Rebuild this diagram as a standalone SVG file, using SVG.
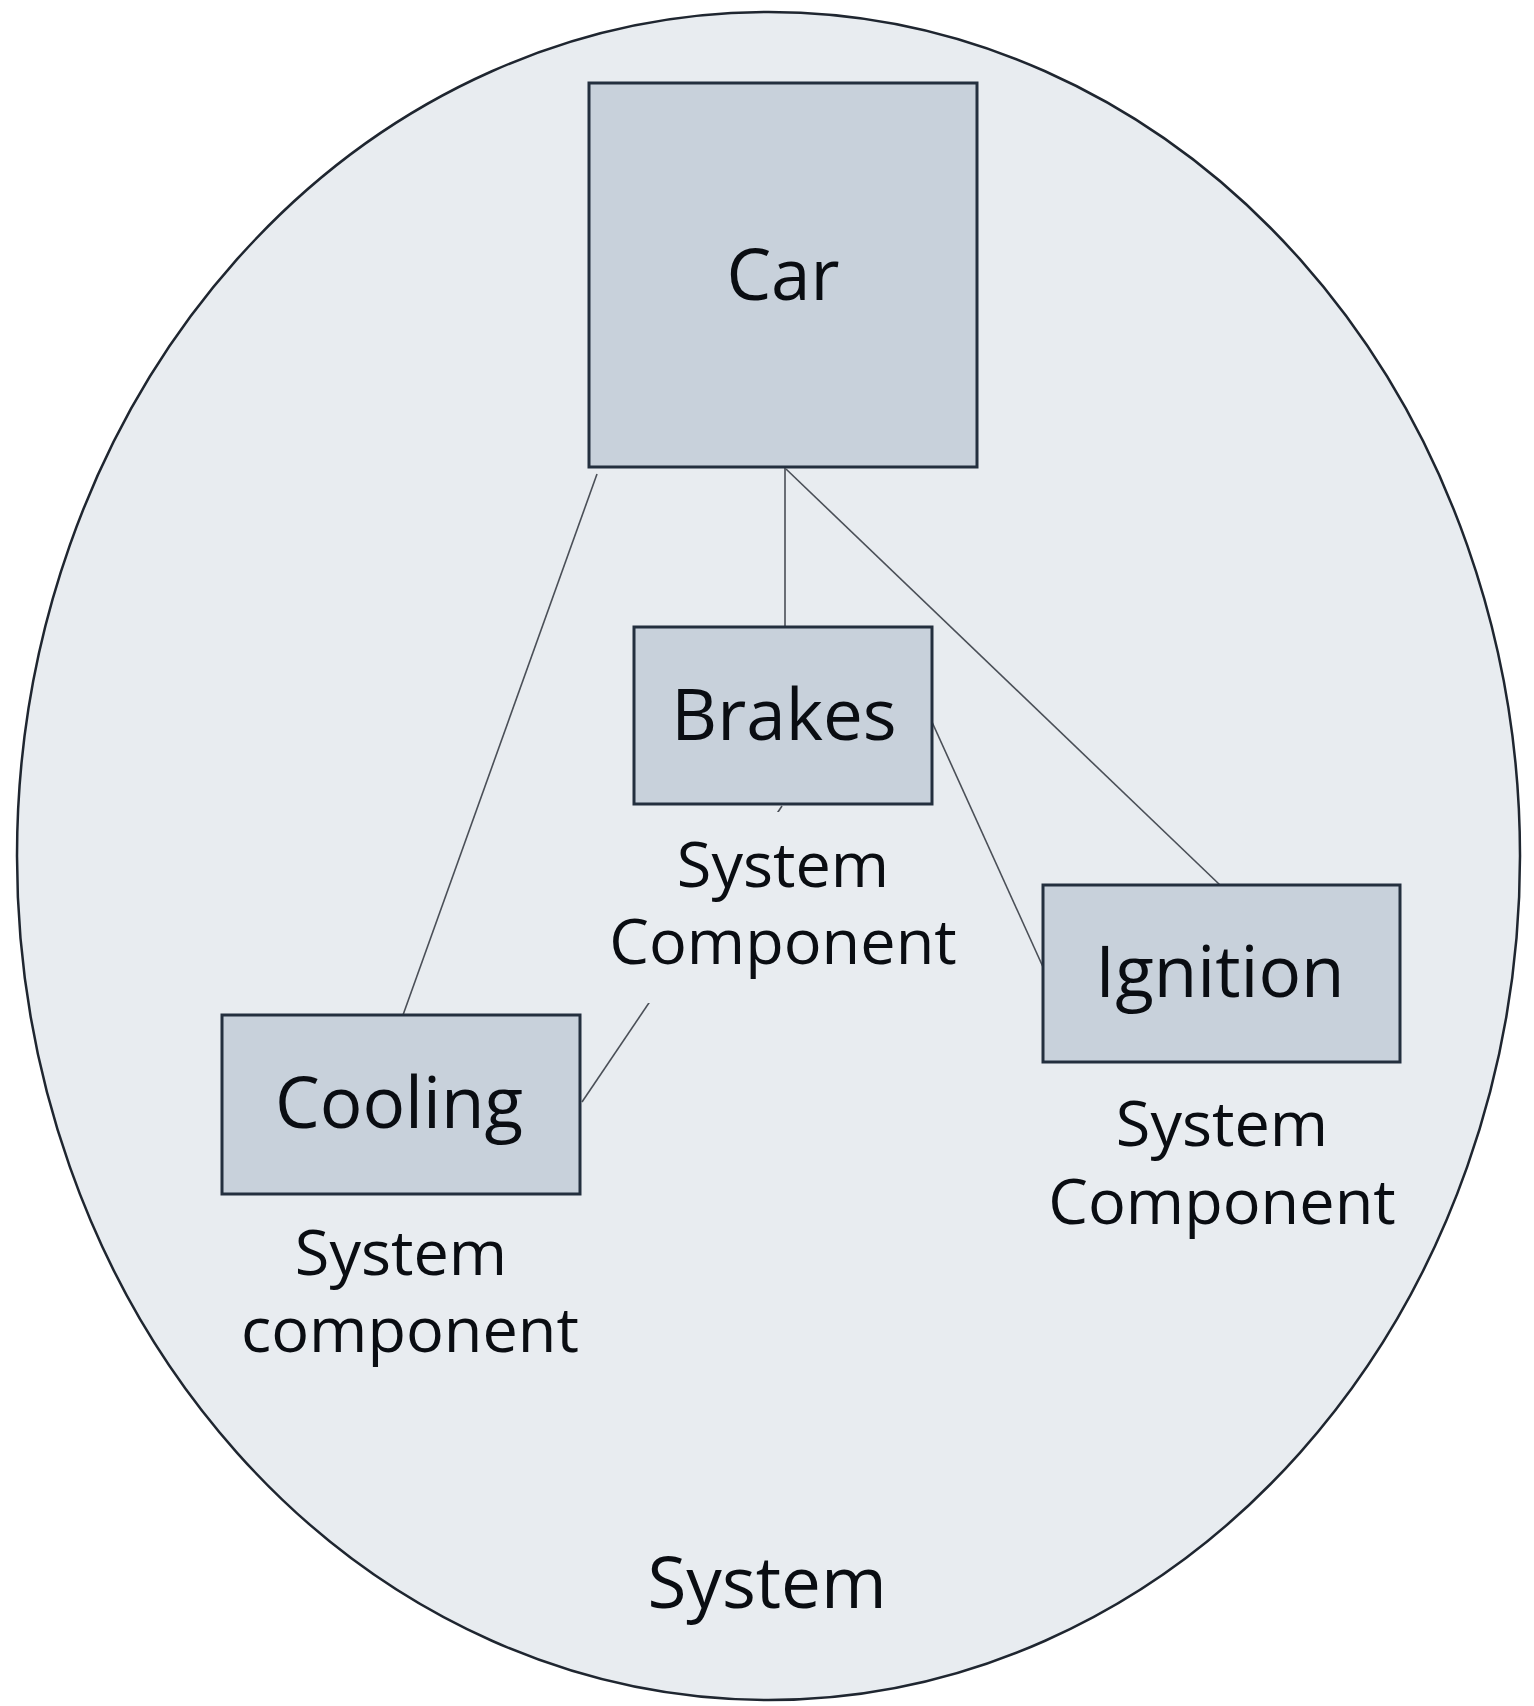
<svg xmlns="http://www.w3.org/2000/svg" width="1534" height="1706" viewBox="0 0 1534 1706">
<style>
.bg{fill:#ffffff}
.sys{fill:#e8ecf0;stroke:#1f2630;stroke-width:2.5}
.node{fill:#c8d1db;stroke:#232f3e;stroke-width:3}
.conn{stroke:#4a4f57;stroke-width:1.6;fill:none}
.lbl{font-family:"Open Sans","Noto Sans","DejaVu Sans",sans-serif;fill:#0a0d12;text-anchor:middle}
.big{font-size:71px}
.cap{font-size:63px}
.capbg{fill:#e8ecf0}
</style>
<rect class="bg" x="0" y="0" width="1534" height="1706"/>
<g id="system">
<ellipse class="sys" cx="768.5" cy="856" rx="751.5" ry="844"/>
<text class="lbl big" x="767" y="1608">System</text>
</g>
<g id="connectors">
<line class="conn" x1="597" y1="474" x2="403" y2="1015"/>
<line class="conn" x1="785" y1="467" x2="785" y2="627"/>
<line class="conn" x1="786" y1="469" x2="1220" y2="885"/>
<line class="conn" x1="932" y1="722" x2="1043" y2="967"/>
<line class="conn" x1="582" y1="1102" x2="782" y2="806"/>
</g>
<g id="car">
<rect class="node" x="589" y="83" width="388" height="384"/>
<text class="lbl big" x="783" y="300">Car</text>
</g>
<g id="brakes">
<rect class="capbg" x="605" y="812" width="353" height="191"/>
<rect class="node" x="634" y="627" width="298" height="177"/>
<text class="lbl big" x="784" y="740">Brakes</text>
<text class="lbl cap"><tspan x="783" y="887">System</tspan><tspan x="783" y="964">Component</tspan></text>
</g>
<g id="ignition">
<rect class="node" x="1043" y="885" width="357" height="177"/>
<text class="lbl big" x="1220" y="997">Ignition</text>
<text class="lbl cap"><tspan x="1222" y="1146">System</tspan><tspan x="1222" y="1224">Component</tspan></text>
</g>
<g id="cooling">
<rect class="node" x="222" y="1015" width="358" height="179"/>
<text class="lbl big" x="399" y="1128">Cooling</text>
<text class="lbl cap"><tspan x="401" y="1275">System</tspan><tspan x="410" y="1352">component</tspan></text>
</g>
</svg>
